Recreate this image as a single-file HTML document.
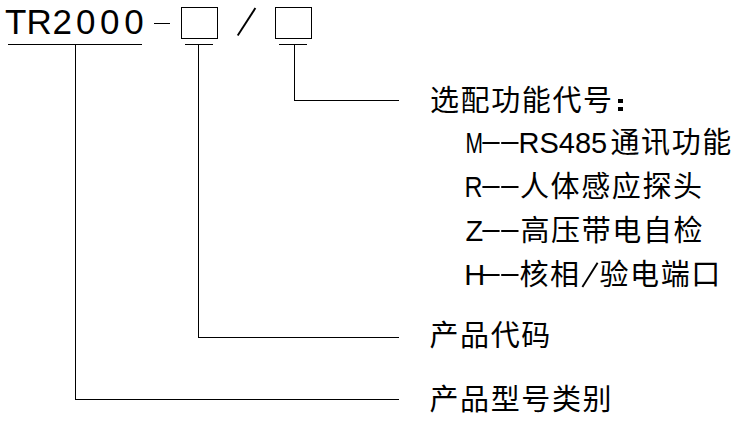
<!DOCTYPE html>
<html lang="zh"><head><meta charset="utf-8"><title>TR2000</title>
<style>
html,body{margin:0;padding:0;background:#fff;font-family:"Liberation Sans",sans-serif;}
body{width:739px;height:423px;overflow:hidden;}
svg{display:block;}
</style></head><body>
<svg role="img" aria-label="TR2000 model code diagram" width="739" height="423" viewBox="0 0 739 423" fill="#000">
<desc>TR2000-□/□ 选配功能代号：M--RS485通讯功能 R--人体感应探头 Z--高压带电自检 H--核相/验电端口 产品代码 产品型号类别</desc>
<rect x="0" y="0" width="739" height="423" fill="#fff"/>
<g shape-rendering="crispEdges"><rect x="8" y="44" width="134" height="1"/><rect x="75" y="44" width="1" height="355"/><rect x="75" y="399" width="324" height="1"/><rect x="154" y="23" width="16" height="1"/><rect x="185" y="44" width="28" height="1"/><rect x="198" y="44" width="1" height="294"/><rect x="198" y="337" width="201" height="1"/><rect x="279" y="44" width="28" height="1"/><rect x="294" y="44" width="1" height="57"/><rect x="294" y="100" width="105" height="1"/><rect x="618.2" y="99.3" width="4.9" height="4"/><rect x="618.2" y="106.8" width="4.9" height="4"/></g>
<rect x="181.5" y="7.5" width="36" height="31" fill="none" stroke="#000" stroke-width="1"/><rect x="275.5" y="7.5" width="36" height="31" fill="none" stroke="#000" stroke-width="1"/>
<rect x="482.4" y="142" width="17.2" height="2"/><rect x="501.2" y="142" width="17.3" height="2"/><rect x="482.4" y="186" width="17.2" height="2"/><rect x="501.2" y="186" width="17.3" height="2"/><rect x="482.4" y="230" width="17.2" height="2"/><rect x="501.2" y="230" width="17.3" height="2"/><rect x="482.4" y="274" width="17.2" height="2"/><rect x="501.2" y="274" width="17.3" height="2"/>
<line x1="237.7" y1="35.5" x2="255.4" y2="8.1" stroke="#000" stroke-width="1.9" stroke-linecap="butt"/><line x1="582.4" y1="287.0" x2="597.6" y2="262.7" stroke="#000" stroke-width="1.9"/>
<g font-family="'Liberation Sans', 'Noto Sans CJK SC', sans-serif" fill="#000">
<text x="5 26.5 52.5 76 100 124.3" y="34" font-size="35">TR2000</text>
<text x="430" y="110.5" font-size="29" letter-spacing="1.6">选配功能代号</text>
<text x="465.4" y="153" font-size="29" textLength="17.5" lengthAdjust="spacingAndGlyphs">M</text>
<text x="518.5" y="153" font-size="29">RS485</text>
<text x="610.5" y="153" font-size="29" letter-spacing="1.6">通讯功能</text>
<text x="464.5" y="197.2" font-size="29" textLength="18" lengthAdjust="spacingAndGlyphs">R</text>
<text x="520" y="197" font-size="29" letter-spacing="1.6">人体感应探头</text>
<text x="465.5" y="241.2" font-size="29">Z</text>
<text x="520.5" y="241" font-size="29" letter-spacing="1.6">高压带电自检</text>
<text x="464.3" y="285.1" font-size="29">H</text>
<text x="519.5" y="285" font-size="29" letter-spacing="1.6">核相</text>
<text x="599.5" y="285" font-size="29" letter-spacing="1.6">验电端口</text>
<text x="429.5" y="346" font-size="29" letter-spacing="1.6">产品代码</text>
<text x="429.5" y="409.5" font-size="29" letter-spacing="1.6">产品型号类别</text>
</g>
</svg>
</body></html>
